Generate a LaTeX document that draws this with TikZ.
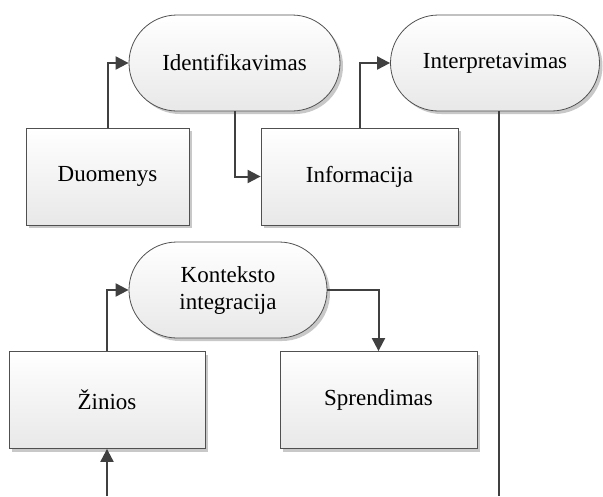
\documentclass[tikz,border=0pt]{standalone}
\usepackage{fontspec}
\setmainfont{Liberation Serif}
\usetikzlibrary{arrows.meta,shadows}
\definecolor{edge}{HTML}{505050}
\definecolor{arr}{HTML}{404040}
\definecolor{shd}{HTML}{C8C8C8}
\tikzset{
  base/.style={draw=edge, line width=0.8pt, top color=white, bottom color=black!9,
    drop shadow={shadow xshift=3pt, shadow yshift=-3pt, fill=shd, opacity=1},
    font=\fontsize{23}{27}\selectfont, align=center, inner sep=0pt},
  boxnode/.style={base, minimum width=#1, minimum height=97pt},
  pill/.style={base, rounded corners=48pt, minimum width=#1, minimum height=96pt},
  conn/.style={draw=arr, line width=2pt, -{Triangle[length=13pt,width=13pt]}},
  plain/.style={draw=arr, line width=2pt}
}
\begin{document}
\begin{tikzpicture}[x=1pt,y=-1pt]
\useasboundingbox (0,0) rectangle (603,496);
\node[boxnode=163pt] (duo) at (107.5,176.5) {Duomenys};
\node[pill=211pt] (ide) at (234.5,63) {Identifikavimas};
\node[boxnode=197pt] (inf) at (359.5,176.5) {Informacija};
\node[pill=209pt] (int) at (495,63) {Interpretavimas};
\node[pill=198pt] (kon) at (228,290) {Konteksto\\integracija};
\node[boxnode=196pt] (zin) at (107,400) {Žinios};
\node[boxnode=197pt] (spr) at (378.5,400) {Sprendimas};
\coordinate (intend) at (499,496);
\coordinate (zinstart) at (107,496);
\draw[conn] (duo.north) |- (ide.west);
\draw[conn] (ide.south) |- (inf.west);
\draw[conn] (inf.north) |- (int.west);
\draw[plain] (int.south -| intend) -- (intend);
\draw[conn] (zin.north) |- (kon.west);
\draw[conn] (kon.east) -| (spr.north);
\draw[conn] (zinstart) -- (zin.south);
\end{tikzpicture}
\end{document}
